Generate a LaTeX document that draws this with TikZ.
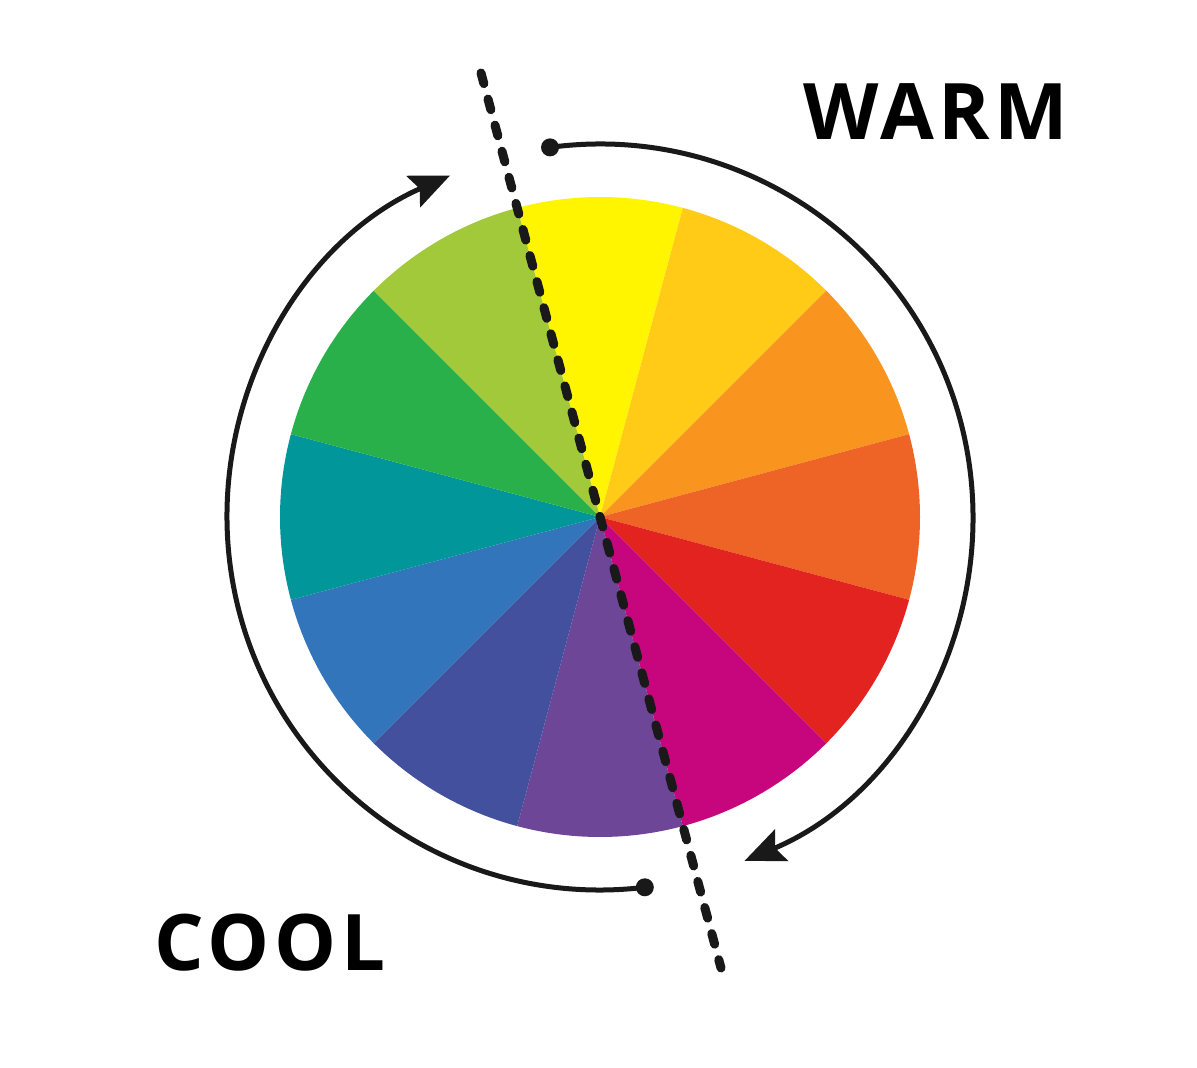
\documentclass[tikz,border=0pt]{standalone}
\usepackage{fontspec}
\setmainfont{Open Sans}
\usetikzlibrary{arrows.meta,calc}
\definecolor{w90}{HTML}{FFF500}
\definecolor{w60}{HTML}{FFCB16}
\definecolor{w30}{HTML}{F9951F}
\definecolor{w0}{HTML}{EE6326}
\definecolor{wm30}{HTML}{E3231F}
\definecolor{wm60}{HTML}{C7067D}
\definecolor{wm90}{HTML}{6D4698}
\definecolor{wm120}{HTML}{43509D}
\definecolor{wm150}{HTML}{3375BA}
\definecolor{w180}{HTML}{01969A}
\definecolor{w150}{HTML}{29B04A}
\definecolor{w120}{HTML}{A2C93A}
\tikzset{
  arcline/.style={line width=5pt, draw=black!90},
  tipstyle/.style={-{Stealth[length=40pt,width=34pt,inset=7pt]}},
  dividerline/.style={line width=9pt, draw=black!90, line cap=round, dash pattern=on 11pt off 16pt},
  label/.style={inner sep=0pt, font=\fontsize{78}{78}\selectfont\bfseries\addfontfeature{LetterSpace=6}},
}
\begin{document}
\begin{tikzpicture}[x=1pt,y=1pt]
\useasboundingbox (0,0) rectangle (1197,1068);
\fill[white] (0,0) rectangle (1197,1068);
\coordinate (c) at (600,551);
% wedges
\foreach \a/\col in {90/w90,60/w60,30/w30,0/w0,-30/wm30,-60/wm60,-90/wm90,-120/wm120,-150/wm150,180/w180,150/w150,120/w120}{
  \fill[\col] (c) -- ($(c)+(\a-15:320)$) arc[start angle=\a-15, end angle=\a+15, radius=320] -- cycle;
}
% arcs
\coordinate (rs) at ($(c)+(97.7:373)$);
\coordinate (ls) at ($(c)+(-83.1:373)$);
\draw[arcline,tipstyle] (rs) arc[start angle=97.7, end angle=-67.2, radius=373];
\draw[arcline,tipstyle] (ls) arc[start angle=-83.1, end angle=-246.3, radius=373];
\fill[black!90] (rs) circle[radius=9];
\fill[black!90] (ls) circle[radius=9];
% divider
\coordinate (dtop) at (481,995);
\coordinate (dbot) at (721,100);
\draw[dividerline] (dtop) -- (dbot);
% labels
\node[label] (warm) at (936,956.5) {WARM};
\node[label] (cool) at (270,125.5) {COOL};
\end{tikzpicture}
\end{document}
